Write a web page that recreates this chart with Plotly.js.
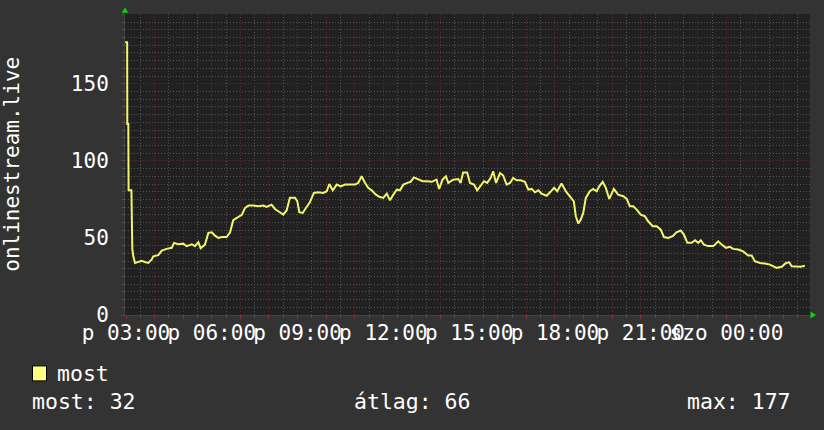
<!DOCTYPE html>
<html>
<head>
<meta charset="utf-8">
<script src="https://cdn.plot.ly/plotly-3.0.1.min.js"></script>
<style>html,body{margin:0;padding:0;background:#333333;}#chart{width:824px;height:430px;}</style>
</head>
<body>
<div id="chart"></div>
<script>
// hours since Friday 00:00 (values past 24 are Saturday)
const hours = [2.97,3.04,3.045,3.08,3.09,3.19,3.22,3.255,3.315,3.43,3.55,3.66,3.78,3.9,3.955,4.13,4.25,4.42,4.6,4.68,4.83,5.0,5.12,5.3,5.41,5.53,5.61,5.76,5.88,6.0,6.11,6.23,6.35,6.52,6.64,6.75,6.93,7.05,7.16,7.28,7.45,7.63,7.8,7.92,8.09,8.21,8.38,8.5,8.62,8.73,8.91,8.99,9.06,9.18,9.29,9.43,9.57,9.72,9.9,10.02,10.11,10.23,10.37,10.51,10.66,10.83,11.01,11.12,11.24,11.36,11.47,11.59,11.74,11.86,12.0,12.12,12.23,12.35,12.47,12.58,12.7,12.84,12.95,13.07,13.22,13.37,13.53,13.69,13.86,13.95,14.07,14.19,14.27,14.44,14.62,14.7,14.79,14.93,15.03,15.17,15.28,15.4,15.52,15.63,15.75,15.84,15.94,16.08,16.19,16.31,16.43,16.54,16.66,16.8,16.95,17.07,17.19,17.3,17.42,17.53,17.71,17.83,17.97,18.08,18.23,18.38,18.52,18.66,18.73,18.82,18.9,18.99,19.08,19.22,19.34,19.46,19.55,19.67,19.78,19.9,20.06,20.21,20.39,20.51,20.62,20.74,20.86,21.0,21.15,21.26,21.42,21.56,21.7,21.81,21.96,22.12,22.25,22.4,22.51,22.63,22.78,22.9,23.01,23.1,23.21,23.36,23.54,23.71,23.83,23.98,24.12,24.23,24.41,24.58,24.76,24.88,24.99,25.17,25.34,25.52,25.75,25.93,26.08,26.19,26.28,26.45,26.59,26.74];
const most = [177,177,124,124,81,81,43,38.1,33.8,34.4,35.1,34.4,33.8,36,38.1,38.8,41.8,42.9,43.6,46.8,45.9,46.3,44.7,45.9,44.7,47.3,43.3,45.7,53.3,53.7,51.5,50.0,50.6,50.6,53.7,61.5,63.7,65.0,69.4,71.0,71.0,70.5,71.0,70.1,71.6,68.8,66.7,65.1,68.0,76.0,76.0,73.9,66.7,66.2,69.4,73.1,79.2,79.6,79.2,80.3,85.0,80.9,84.6,83.5,84.6,84.6,84.6,85.7,90.0,85.7,82.5,80.9,78.1,76.7,76.0,78.8,74.4,78.1,81.4,80.9,84.6,85.7,86.4,89.3,88.2,86.8,86.8,86.4,87.8,81.8,87.8,90.0,85.7,87.8,88.2,85.7,92.5,92.5,85.7,84.6,80.9,83.9,86.8,85.7,88.9,93.2,85.7,92.1,90.5,84.6,85.7,88.9,87.4,87.4,86.4,81.4,81.8,79.6,80.9,78.8,77.4,79.6,82.5,80.3,85.3,80.3,77.1,73.7,64.1,59.3,61.8,66.2,76.0,80.3,81.8,80.3,83.5,86.4,82.5,75.3,81.8,78.1,77.1,75.3,70.5,70.5,68.4,65.1,64.0,60.8,57.6,57.6,55.4,50.6,50.0,51.1,53.7,54.8,52.2,46.8,46.8,48.5,46.8,48.5,45.7,44.7,44.7,47.8,45.7,43.6,44.2,42.9,42.5,41.3,38.6,38.6,34.9,33.8,33.4,32.7,30.6,31.3,33.8,34.2,31.6,31.3,31.3,32];

const xLabelHours = [3,6,9,12,15,18,21,24];
const xLabels = ['p 03:00','p 06:00','p 09:00','p 12:00','p 15:00','p 18:00','p 21:00','szo 00:00'];
const yTicks = [0,50,100,150];
const yLabels = ['0','50','100','150'];
const seriesName = 'most';
const axisTitle = 'onlinestream.live';
const statLast = 'most: 32';
const statAvg = 'átlag: 66';
const statMax = 'max: 177';

// layout geometry (pixels)
const W = 824, H = 430, L = 125, R = 810, T = 14, B = 315.5;
const px = x => (x - L) / (R - L);
const py = y => (B - y) / (B - T);

const font = {family: 'DejaVu Sans Mono, monospace', size: 21, color: '#ffffff'};
const legFont = {family: 'DejaVu Sans Mono, monospace', size: 21.5, color: '#ffffff'};
const RED = '#652727', GRAY = '#535353';

const hourTicks = [], hourText = [];
for (let h = 3; h <= 26; h++) {
  hourTicks.push(h);
  const i = xLabelHours.indexOf(h);
  hourText.push(i >= 0 ? xLabels[i] : '');
}

const trace = {
  x: hours, y: most, type: 'scatter', mode: 'lines', name: seriesName,
  line: {color: '#f4f46c', width: 2, shape: 'linear'},
  hoverinfo: 'skip'
};

const layout = {
  width: W, height: H,
  margin: {l: L, r: W - R, t: T, b: H - B, pad: 0},
  paper_bgcolor: '#333333', plot_bgcolor: '#212121',
  showlegend: false,
  font: font,
  xaxis: {
    range: [2.965, 26.92], tickmode: 'array', tickvals: hourTicks, ticktext: hourText,
    tickangle: 0, tickfont: font, showgrid: true, gridcolor: RED, griddash: '1px,2px', gridwidth: 1,
    ticks: 'outside', ticklen: 3, tickcolor: '#8a3333', zeroline: false, ticklabelstandoff: -4,
    showline: true, linecolor: '#444444', linewidth: 1,
    minor: {tickmode: 'linear', tick0: 3.5, dtick: 1, showgrid: true, gridcolor: GRAY, griddash: '1px,2px', gridwidth: 1, ticks: 'outside', ticklen: 2, tickcolor: GRAY},
    fixedrange: true
  },
  yaxis: {
    range: [0, 195.3], tickmode: 'array', tickvals: yTicks, ticktext: yLabels,
    tickfont: font, showgrid: true, gridcolor: RED, griddash: '1px,2px', gridwidth: 1,
    ticks: 'outside', ticklen: 3, tickcolor: '#8a3333', zeroline: false, ticklabelstandoff: 8,
    showline: true, linecolor: '#444444', linewidth: 1,
    minor: {tickmode: 'linear', tick0: 0, dtick: 5, showgrid: true, gridcolor: GRAY, griddash: '1px,2px', gridwidth: 1, ticks: 'outside', ticklen: 2, tickcolor: GRAY},
    fixedrange: true
  },
  shapes: [
    {type: 'path', xref: 'paper', yref: 'paper', path: `M ${px(121.8)} ${py(12.8)} L ${px(128.2)} ${py(12.8)} L ${px(125)} ${py(7.5)} Z`, fillcolor: '#00dd00', line: {width: 0}},
    {type: 'path', xref: 'paper', yref: 'paper', path: `M ${px(810.5)} ${py(312)} L ${px(810.5)} ${py(319)} L ${px(816)} ${py(315.5)} Z`, fillcolor: '#00dd00', line: {width: 0}},
    {type: 'rect', xref: 'paper', yref: 'paper', x0: px(32.5), x1: px(46.5), y0: py(381.5), y1: py(366.5), fillcolor: '#ffff80', line: {color: '#000000', width: 1}}
  ],
  annotations: [
    {xref: 'paper', yref: 'paper', x: px(12), y: py(165), text: axisTitle, textangle: -90, showarrow: false, xanchor: 'center', yanchor: 'middle', font: font},
    {xref: 'paper', yref: 'paper', x: px(55), y: py(374), text: seriesName, showarrow: false, xanchor: 'left', yanchor: 'middle', font: legFont},
    {xref: 'paper', yref: 'paper', x: px(30), y: py(402), text: statLast, showarrow: false, xanchor: 'left', yanchor: 'middle', font: legFont},
    {xref: 'paper', yref: 'paper', x: px(352), y: py(402), text: statAvg, showarrow: false, xanchor: 'left', yanchor: 'middle', font: legFont},
    {xref: 'paper', yref: 'paper', x: px(685), y: py(402), text: statMax, showarrow: false, xanchor: 'left', yanchor: 'middle', font: legFont}
  ]
};

Plotly.newPlot('chart', [trace], layout, {staticPlot: true, displayModeBar: false});
</script>
</body>
</html>
